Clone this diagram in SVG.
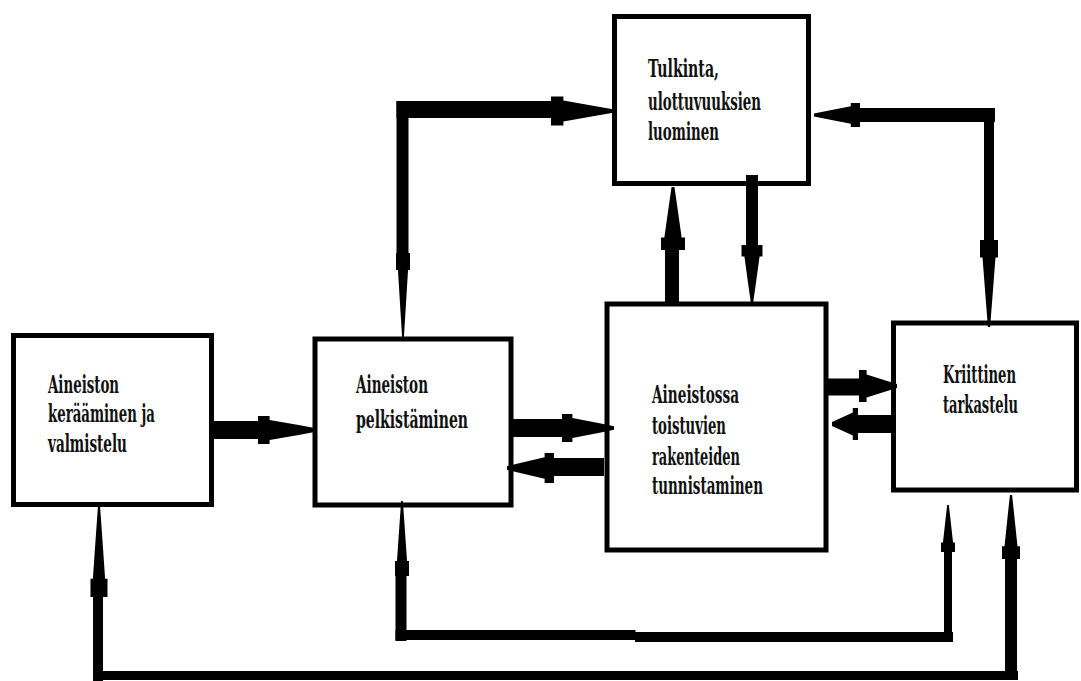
<svg xmlns="http://www.w3.org/2000/svg" xmlns:xlink="http://www.w3.org/1999/xlink" width="1081" height="681" viewBox="0 0 1081 681">
<style>
.box{fill:#fff;stroke:#000;stroke-width:5}
.lbl{font-family:"DejaVu Serif","Liberation Serif",serif;font-weight:bold;font-size:24px;fill:#111}
.c{fill:#000}
</style>
<defs>
<path id="ah" d="M0,-0.12 L-0.3,-0.35 L-0.8,-0.72 L-0.8,-1 L-1,-1 L-1,1 L-0.8,1 L-0.8,0.72 L-0.3,0.35 L0,0.12 Z"/>
</defs>
<rect width="1081" height="681" fill="#fff"/>
<g id="n1"><rect class="box" x="13.5" y="335.5" width="198" height="169"/>
<text class="lbl"><tspan x="48" y="393" textLength="71" lengthAdjust="spacingAndGlyphs">Aineiston</tspan><tspan x="48" y="422" textLength="107" lengthAdjust="spacingAndGlyphs">kerääminen ja</tspan><tspan x="48" y="452" textLength="79" lengthAdjust="spacingAndGlyphs">valmistelu</tspan></text></g>
<g id="n2"><rect class="box" x="315" y="339" width="196" height="166"/>
<text class="lbl"><tspan x="356" y="393" textLength="72" lengthAdjust="spacingAndGlyphs">Aineiston</tspan><tspan x="356" y="428" textLength="112" lengthAdjust="spacingAndGlyphs">pelkistäminen</tspan></text></g>
<g id="n3"><rect class="box" x="607" y="304" width="219" height="246"/>
<text class="lbl"><tspan x="652" y="403" textLength="87" lengthAdjust="spacingAndGlyphs">Aineistossa</tspan><tspan x="652" y="434" textLength="74" lengthAdjust="spacingAndGlyphs">toistuvien</tspan><tspan x="652" y="465" textLength="88" lengthAdjust="spacingAndGlyphs">rakenteiden</tspan><tspan x="652" y="494" textLength="111" lengthAdjust="spacingAndGlyphs">tunnistaminen</tspan></text></g>
<g id="n4"><rect class="box" x="614.5" y="16.5" width="194" height="167"/>
<text class="lbl"><tspan x="648" y="77" textLength="71" lengthAdjust="spacingAndGlyphs">Tulkinta,</tspan><tspan x="648" y="110" textLength="113" lengthAdjust="spacingAndGlyphs">ulottuvuuksien</tspan><tspan x="648" y="140" textLength="71" lengthAdjust="spacingAndGlyphs">luominen</tspan></text></g>
<g id="n5"><rect class="box" x="893.5" y="323" width="183" height="167"/>
<text class="lbl"><tspan x="943" y="383" textLength="73" lengthAdjust="spacingAndGlyphs">Kriittinen</tspan><tspan x="943" y="413" textLength="75" lengthAdjust="spacingAndGlyphs">tarkastelu</tspan></text></g>
<g id="connectors" class="c">
<rect x="212" y="421" width="46" height="18"/>
<use href="#ah" transform="translate(316,430) scale(58,14)"/>
<rect x="513" y="419" width="50" height="18"/>
<use href="#ah" transform="translate(614,428) scale(52,14)"/>
<rect x="552" y="458" width="52" height="18"/>
<use href="#ah" transform="translate(507,468) rotate(180) scale(47,15)"/>
<rect x="826" y="378.5" width="34" height="17"/>
<use href="#ah" transform="translate(897,386) scale(38,16)"/>
<rect x="856" y="415" width="36" height="18"/>
<use href="#ah" transform="translate(832,424) rotate(180) scale(26,16)"/>
<rect x="665" y="249" width="14" height="55"/>
<use href="#ah" transform="translate(673,187) rotate(-90) scale(63,12)"/>
<rect x="746" y="175" width="12" height="71"/>
<use href="#ah" transform="translate(752,302) rotate(90) scale(57,10.5)"/>
<rect x="396.5" y="101" width="12" height="160"/>
<rect x="396.5" y="101" width="156" height="17"/>
<use href="#ah" transform="translate(613,111) scale(62,14.5)"/>
<use href="#ah" transform="translate(403,338) rotate(90) scale(85,7)"/>
<rect x="859" y="108" width="136" height="14"/>
<rect x="984" y="108" width="10" height="134"/>
<use href="#ah" transform="translate(814,115) rotate(180) scale(46,12)"/>
<use href="#ah" transform="translate(989,327) rotate(90) scale(87,9)"/>
<rect x="395.5" y="574" width="11" height="67"/>
<rect x="395.5" y="630" width="240" height="10"/>
<rect x="635" y="632" width="318" height="10"/>
<rect x="944" y="551" width="8" height="91"/>
<use href="#ah" transform="translate(402,501) rotate(-90) scale(75,7)"/>
<use href="#ah" transform="translate(948,505) rotate(-90) scale(47,7)"/>
<rect x="93" y="596" width="10" height="85"/>
<rect x="93" y="671" width="925" height="9"/>
<rect x="1005" y="558" width="12" height="122"/>
<use href="#ah" transform="translate(99,506) rotate(-90) scale(91,8.5)"/>
<use href="#ah" transform="translate(1011,495) rotate(-90) scale(64,9)"/>
</g>
</svg>
